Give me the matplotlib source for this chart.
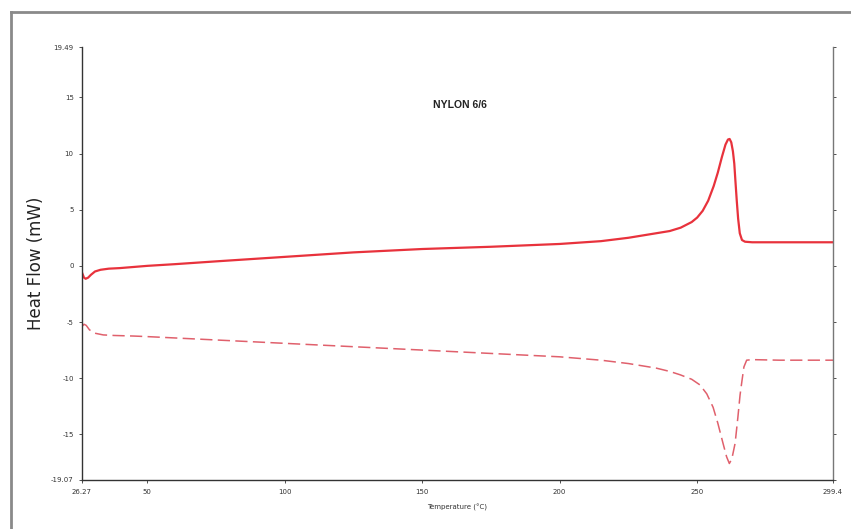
import matplotlib
matplotlib.use("Agg")
import matplotlib.pyplot as plt
from matplotlib.lines import Line2D

# heating run (solid)
heat_temp = [26.27, 27.0, 27.6, 28.5, 29.5, 31, 33, 36, 40, 50, 60, 75, 100, 125, 150, 175, 200,
             215, 225, 235, 240, 244, 248, 250, 252, 254, 256, 257.5, 259, 260.3, 261.2,
             261.8, 262.4, 263.0, 263.5, 263.9, 264.4, 264.9, 265.5, 266.3, 267.4, 270, 280, 299.4]
heat_flow = [-0.6, -1.05, -1.15, -1.05, -0.8, -0.5, -0.35, -0.25, -0.2, 0.0, 0.15, 0.4, 0.8, 1.2, 1.5, 1.7, 1.95,
             2.2, 2.5, 2.9, 3.1, 3.4, 3.9, 4.3, 4.9, 5.8, 7.1, 8.3, 9.7, 10.8, 11.25,
             11.3, 11.0, 10.2, 9.1, 7.6, 5.8, 4.2, 2.9, 2.3, 2.15, 2.1, 2.1, 2.1]

# cooling run (dashed)
cool_temp = [26.27, 27.0, 27.8, 29, 31, 34, 38, 45, 50, 75, 100, 125, 150, 175, 200, 215, 225, 235, 240,
             243.8, 248, 251, 253.5, 255.8, 257.5, 259.4, 260.7, 261.7, 262.6, 263.8, 264.8, 265.6,
             266.2, 267, 268, 270, 280, 299.4]
cool_flow = [-5.4, -5.2, -5.3, -5.7, -6.0, -6.15, -6.2, -6.25, -6.3, -6.6, -6.9, -7.2, -7.5, -7.8, -8.1, -8.4, -8.7, -9.1, -9.4,
             -9.7, -10.1, -10.6, -11.4, -12.6, -14.0, -15.8, -17.0, -17.6, -17.2, -15.8, -13.5, -11.5,
             -10.4, -9.0, -8.4, -8.35, -8.4, -8.4]

x_ticks = [26.27, 50, 100, 150, 200, 250, 299.4]
x_labels = ["26.27", "50", "100", "150", "200", "250", "299.4"]
y_ticks = [19.49, 15, 10, 5, 0, -5, -10, -15, -19.07]
y_labels = ["19.49", "15", "10", "5", "0", "-5", "-10", "-15", "-19.07"]

fig = plt.figure(figsize=(8.51, 5.29), dpi=100)
ax = fig.add_axes([82/851, 1-480/529, (833-82)/851, (480-47)/529])

ax.plot(heat_temp, heat_flow, color="#e8323c", lw=1.6)
ax.plot(cool_temp, cool_flow, color="#e0606c", lw=1.1, dashes=(8, 3.5))

ax.set_xlim(26.27, 299.4)
ax.set_ylim(-19.07, 19.49)
ax.set_xticks(x_ticks)
ax.set_xticklabels(x_labels)
ax.set_yticks(y_ticks)
ax.set_yticklabels(y_labels)
ax.tick_params(labelsize=5, colors="#333333", length=2.5, width=0.6, right=True, labelright=False)
ax.tick_params(axis="x", pad=4)

ax.spines["top"].set_visible(False)
ax.spines["right"].set_color("#777777")
ax.spines["left"].set_color("#333333")
ax.spines["bottom"].set_color("#333333")
for s in ["left", "bottom", "right"]:
    ax.spines[s].set_linewidth(1.0)

ax.set_ylabel("Heat Flow (mW)", fontsize=12, color="#222222", labelpad=4)
ax.set_xlabel("Temperature (°C)", fontsize=5, color="#333333", labelpad=6)
ax.text(0.503, 0.866, "NYLON 6/6", transform=ax.transAxes, fontsize=7.5, fontweight="bold",
        family="Liberation Sans", ha="center", va="center", color="#222222")

# outer frame
fig.add_artist(Line2D([11/851, 11/851], [-0.01, 1-12/529], transform=fig.transFigure, color="#8a8a8a", lw=2))
fig.add_artist(Line2D([11/851, 1.01], [1-12/529, 1-12/529], transform=fig.transFigure, color="#8a8a8a", lw=2))

fig.savefig("out.png", dpi=100)
